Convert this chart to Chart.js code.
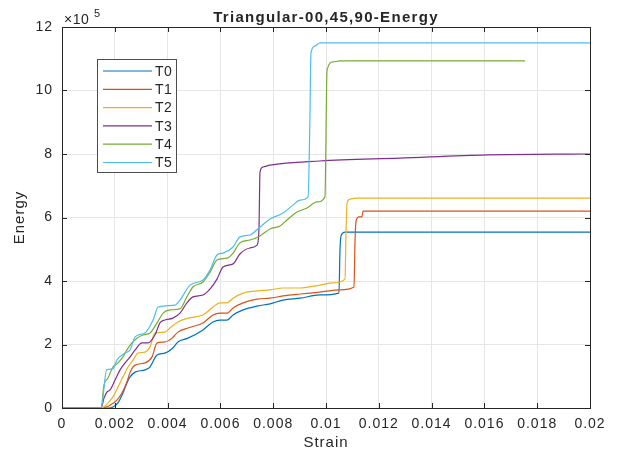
<!DOCTYPE html>
<html>
<head>
<meta charset="utf-8">
<script src="https://cdn.jsdelivr.net/npm/chart.js@4.4.1/dist/chart.umd.min.js"></script>
<style>
  html, body { margin: 0; padding: 0; background: #fff; }
  canvas { display: block; }
</style>
</head>
<body>
<canvas id="myChart" width="617" height="454"></canvas>
<script>
// values, energy in units of 1e5
const seriesNames = ['T0', 'T1', 'T2', 'T3', 'T4', 'T5'];
const seriesColors = ['#0072BD', '#D95319', '#EDB120', '#7E2F8E', '#77AC30', '#4DBEEE'];

const t0Strain = [0, 0.00174, 0.00193, 0.00212, 0.00231, 0.00246, 0.00258, 0.00277, 0.00314, 0.00333, 0.00360, 0.00390, 0.00420, 0.00439, 0.00477, 0.00534, 0.00572, 0.00598, 0.00625, 0.00648, 0.00686, 0.00739, 0.00788, 0.00837, 0.00902, 0.00977, 0.01049, 0.01053, 0.01057, 0.01072, 0.02];
const t0Energy = [0, 0, 0.03, 0.16, 0.47, 0.79, 0.98, 1.13, 1.20, 1.29, 1.67, 1.73, 1.89, 2.08, 2.20, 2.46, 2.71, 2.77, 2.77, 2.93, 3.09, 3.21, 3.28, 3.40, 3.46, 3.56, 3.62, 4.98, 5.42, 5.54, 5.54];

const t1Strain = [0, 0.00152, 0.00167, 0.00182, 0.00208, 0.00227, 0.00246, 0.00258, 0.00277, 0.00314, 0.00341, 0.00360, 0.00390, 0.00417, 0.00439, 0.00477, 0.00534, 0.00572, 0.00598, 0.00625, 0.00648, 0.00686, 0.00739, 0.00788, 0.00837, 0.00902, 0.00977, 0.01053, 0.01106, 0.01110, 0.01114, 0.01125, 0.01136, 0.01140, 0.02];
const t1Energy = [0, 0, 0.03, 0.09, 0.25, 0.47, 0.82, 1.13, 1.35, 1.42, 1.61, 2.05, 2.08, 2.20, 2.39, 2.52, 2.68, 2.93, 2.99, 2.99, 3.15, 3.31, 3.43, 3.46, 3.53, 3.59, 3.65, 3.72, 3.81, 5.29, 5.89, 6.02, 6.02, 6.20, 6.20];

const t2Strain = [0, 0.00148, 0.00163, 0.00174, 0.00193, 0.00212, 0.00231, 0.00250, 0.00269, 0.00288, 0.00314, 0.00333, 0.00352, 0.00390, 0.00409, 0.00439, 0.00477, 0.00534, 0.00572, 0.00598, 0.00625, 0.00648, 0.00686, 0.00739, 0.00788, 0.00837, 0.00902, 0.00977, 0.01027, 0.01072, 0.01076, 0.01080, 0.01091, 0.01117, 0.02];
const t2Energy = [0, 0, 0.06, 0.16, 0.35, 0.66, 0.98, 1.29, 1.51, 1.73, 1.76, 1.92, 2.36, 2.39, 2.52, 2.71, 2.83, 2.93, 3.18, 3.31, 3.31, 3.46, 3.62, 3.69, 3.72, 3.78, 3.78, 3.87, 3.94, 4.06, 5.61, 6.46, 6.58, 6.61, 6.61];

const t3Strain = [0, 0.00148, 0.00159, 0.00170, 0.00182, 0.00201, 0.00220, 0.00239, 0.00258, 0.00277, 0.00303, 0.00326, 0.00352, 0.00371, 0.00390, 0.00420, 0.00447, 0.00473, 0.00496, 0.00534, 0.00561, 0.00587, 0.00610, 0.00648, 0.00674, 0.00712, 0.00739, 0.00746, 0.00750, 0.00761, 0.00788, 0.00977, 0.01280, 0.01610, 0.02];
const t3Energy = [0, 0, 0.31, 0.50, 0.57, 0.88, 1.20, 1.42, 1.61, 1.83, 2.05, 2.05, 2.30, 2.68, 2.77, 2.83, 2.99, 3.31, 3.50, 3.56, 3.75, 4.06, 4.44, 4.54, 4.85, 5.04, 5.13, 5.61, 7.43, 7.59, 7.65, 7.78, 7.87, 7.97, 8.00];

const t4Strain = [0, 0.00148, 0.00159, 0.00174, 0.00193, 0.00212, 0.00231, 0.00246, 0.00265, 0.00284, 0.00307, 0.00333, 0.00360, 0.00383, 0.00409, 0.00447, 0.00473, 0.00496, 0.00534, 0.00561, 0.00587, 0.00625, 0.00648, 0.00674, 0.00712, 0.00750, 0.00788, 0.00826, 0.00852, 0.00890, 0.00928, 0.00966, 0.00996, 0.01004, 0.01027, 0.01053, 0.01754];
const t4Energy = [0, 0, 0.72, 0.94, 1.29, 1.42, 1.61, 1.83, 2.05, 2.20, 2.30, 2.36, 2.68, 2.99, 3.09, 3.12, 3.50, 3.81, 3.97, 4.28, 4.66, 4.72, 4.88, 5.20, 5.29, 5.42, 5.64, 5.73, 5.92, 6.17, 6.30, 6.49, 6.65, 10.65, 10.90, 10.93, 10.93];

const t5Strain = [0, 0.00148, 0.00169, 0.00193, 0.00208, 0.00239, 0.00258, 0.00277, 0.00314, 0.00345, 0.00364, 0.00428, 0.00447, 0.00485, 0.00534, 0.00561, 0.00587, 0.00610, 0.00648, 0.00674, 0.00712, 0.00750, 0.00788, 0.00837, 0.00875, 0.00902, 0.00932, 0.00939, 0.00943, 0.00958, 0.00977, 0.02];
const t5Energy = [0, 0, 1.20, 1.23, 1.51, 1.73, 1.83, 2.24, 2.36, 2.77, 3.18, 3.24, 3.40, 3.87, 4.03, 4.35, 4.82, 4.88, 5.07, 5.39, 5.45, 5.70, 5.95, 6.14, 6.39, 6.55, 6.65, 9.07, 11.18, 11.40, 11.50, 11.50];

const strainTicks = [0, 0.002, 0.004, 0.006, 0.008, 0.01, 0.012, 0.014, 0.016, 0.018, 0.02];
const energyTicks = [0, 2, 4, 6, 8, 10, 12];

const allStrain = [t0Strain, t1Strain, t2Strain, t3Strain, t4Strain, t5Strain];
const allEnergy = [t0Energy, t1Energy, t2Energy, t3Energy, t4Energy, t5Energy];

const textColor = '#262626';
const fontFamily = '"Liberation Sans", Arial, Helvetica, sans-serif';

const datasets = seriesNames.map((name, i) => ({
  label: name,
  data: allStrain[i].map((x, j) => ({ x: x, y: allEnergy[i][j] })),
  borderColor: seriesColors[i],
  backgroundColor: seriesColors[i],
  borderWidth: 1.2,
  pointRadius: 0,
  cubicInterpolationMode: 'monotone',
  order: seriesNames.length - i
}));

// matlab style box, inner ticks, title, exponent and legend
const matlabLook = {
  id: 'matlabLook',
  beforeDraw(chart) {
    chart.ctx.letterSpacing = '1px';
  },
  afterDatasetsDraw(chart) {
    const ctx = chart.ctx;
    const a = chart.chartArea;
    const xs = chart.scales.x;
    const ys = chart.scales.y;
    ctx.save();
    ctx.strokeStyle = textColor;
    ctx.lineWidth = 1;
    ctx.beginPath();
    strainTicks.forEach(v => {
      const px = Math.round(xs.getPixelForValue(v)) + 0.5;
      ctx.moveTo(px, a.bottom); ctx.lineTo(px, a.bottom - 5);
      ctx.moveTo(px, a.top); ctx.lineTo(px, a.top + 5);
    });
    energyTicks.forEach(v => {
      const py = Math.round(ys.getPixelForValue(v)) + 0.5;
      ctx.moveTo(a.left, py); ctx.lineTo(a.left + 5, py);
      ctx.moveTo(a.right, py); ctx.lineTo(a.right - 5, py);
    });
    ctx.stroke();
    ctx.strokeRect(Math.round(a.left) + 0.5, Math.round(a.top) + 0.5,
      Math.round(a.right - a.left), Math.round(a.bottom - a.top));
    ctx.restore();
  },
  afterDraw(chart) {
    const ctx = chart.ctx;
    ctx.save();
    ctx.fillStyle = textColor;

    // title
    ctx.letterSpacing = '1.3px';
    ctx.font = 'bold 15px ' + fontFamily;
    ctx.textAlign = 'center';
    ctx.textBaseline = 'alphabetic';
    ctx.fillText('Triangular-00,45,90-Energy', 326, 22);

    // exponent
    ctx.letterSpacing = '0.5px';
    ctx.textAlign = 'left';
    ctx.font = '14px ' + fontFamily;
    ctx.fillText('\u00d710', 64, 24);
    ctx.font = '11px ' + fontFamily;
    ctx.fillText('5', 94, 17);

    // legend
    const lx = 97.5, ly = 59.5, lw = 79, lh = 113;
    ctx.fillStyle = '#fff';
    ctx.fillRect(lx, ly, lw, lh);
    ctx.strokeStyle = '#4d4d4d';
    ctx.lineWidth = 1;
    ctx.strokeRect(lx, ly, lw, lh);
    ctx.font = '14px ' + fontFamily;
    ctx.letterSpacing = '0.5px';
    ctx.textBaseline = 'middle';
    chart.data.datasets.forEach((ds, i) => {
      const y = 71 + i * 18.3;
      ctx.strokeStyle = ds.borderColor;
      ctx.lineWidth = 1.2;
      ctx.beginPath();
      ctx.moveTo(103, y);
      ctx.lineTo(152, y);
      ctx.stroke();
      ctx.fillStyle = textColor;
      ctx.fillText(ds.label, 155, y + 1);
    });
    ctx.restore();
  }
};

new Chart(document.getElementById('myChart'), {
  type: 'line',
  data: { datasets: datasets },
  plugins: [matlabLook],
  options: {
    responsive: false,
    animation: false,
    devicePixelRatio: 1,
    layout: { padding: { top: 27, right: 27, left: 0, bottom: 0 } },
    plugins: {
      legend: { display: false },
      title: { display: false },
      tooltip: { enabled: false }
    },
    scales: {
      x: {
        type: 'linear',
        min: 0,
        max: 0.02,
        afterFit: (s) => { s.height = 46; },
        afterBuildTicks: (s) => { s.ticks = strainTicks.map(v => ({ value: v })); },
        ticks: {
          color: textColor,
          font: { family: fontFamily, size: 14 },
          padding: 8,
          maxRotation: 0,
          autoSkip: false,
          callback: (v) => String(Number(v.toFixed(3)))
        },
        grid: { color: '#e6e6e6', drawTicks: false },
        border: { display: false },
        title: {
          display: true,
          text: 'Strain',
          color: textColor,
          font: { family: fontFamily, size: 15 },
          padding: { top: 0, bottom: 2 }
        }
      },
      y: {
        type: 'linear',
        min: 0,
        max: 12,
        afterFit: (s) => { s.width = 62; },
        afterBuildTicks: (s) => { s.ticks = energyTicks.map(v => ({ value: v })); },
        ticks: {
          color: textColor,
          font: { family: fontFamily, size: 14 },
          padding: 9,
          autoSkip: false,
          callback: (v) => String(v)
        },
        grid: { color: '#e6e6e6', drawTicks: false },
        border: { display: false },
        title: {
          display: true,
          text: 'Energy',
          color: textColor,
          font: { family: fontFamily, size: 15 },
          padding: { top: 11, bottom: 0 }
        }
      }
    }
  }
});
</script>
</body>
</html>
